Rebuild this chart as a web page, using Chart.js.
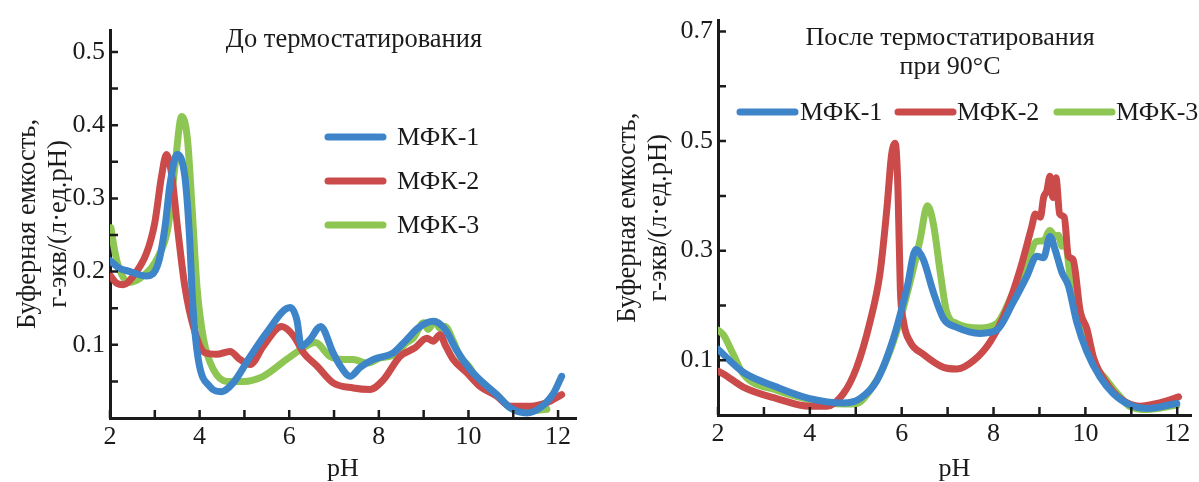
<!DOCTYPE html>
<html>
<head>
<meta charset="utf-8">
<script src="https://cdn.jsdelivr.net/npm/chart.js@4.4.1/dist/chart.umd.min.js"></script>
<style>
  html, body { margin: 0; padding: 0; background: #fff; }
  .wrap { position: absolute; top: 0; height: 482px; }
  #left { left: 0; width: 600px; }
  #right { left: 600px; width: 599px; }
</style>
</head>
<body>
<div class="wrap" id="left"><canvas id="chartBefore"></canvas></div>
<div class="wrap" id="right"><canvas id="chartAfter"></canvas></div>
<script>
// ---- data ----
const seriesNames = ['МФК-1', 'МФК-2', 'МФК-3'];

// before thermostating
const beforePH1 = [2.0, 2.2, 2.45, 2.82, 3.08, 3.23, 3.34, 3.5, 3.67, 3.77, 3.85, 3.97, 4.23, 4.49, 4.75, 5.13, 5.5, 6.02, 6.17, 6.27, 6.46, 6.7, 6.98, 7.13, 7.36, 7.58, 7.88, 8.32, 8.62, 8.88, 9.21, 9.48, 9.73, 10.04, 10.33, 10.63, 10.93, 11.3, 11.6, 11.9, 12.08];
const beforeV1 = [0.215, 0.205, 0.2, 0.194, 0.212, 0.262, 0.32, 0.36, 0.33, 0.253, 0.153, 0.08, 0.043, 0.036, 0.048, 0.084, 0.117, 0.151, 0.134, 0.098, 0.107, 0.125, 0.089, 0.072, 0.057, 0.069, 0.080, 0.089, 0.107, 0.123, 0.132, 0.121, 0.093, 0.066, 0.048, 0.032, 0.014, 0.007, 0.014, 0.034, 0.057];

const beforePH2 = [2.0, 2.15, 2.3, 2.52, 2.82, 3.0, 3.15, 3.26, 3.37, 3.52, 3.67, 3.86, 4.12, 4.38, 4.68, 4.9, 5.13, 5.42, 5.83, 6.1, 6.32, 6.62, 6.98, 7.43, 7.8, 8.1, 8.47, 8.81, 9.07, 9.21, 9.37, 9.48, 9.66, 9.96, 10.26, 10.63, 10.93, 11.38, 11.75, 12.08];
const beforeV2 = [0.195, 0.184, 0.182, 0.194, 0.226, 0.267, 0.33, 0.36, 0.335, 0.253, 0.18, 0.125, 0.089, 0.087, 0.091, 0.08, 0.073, 0.098, 0.125, 0.112, 0.089, 0.071, 0.048, 0.041, 0.039, 0.052, 0.084, 0.096, 0.109, 0.105, 0.114, 0.100, 0.080, 0.062, 0.043, 0.030, 0.016, 0.016, 0.021, 0.032];

const beforePH3 = [2.02, 2.1, 2.19, 2.41, 2.74, 3.08, 3.3, 3.45, 3.6, 3.73, 3.83, 3.94, 4.09, 4.31, 4.61, 4.98, 5.42, 5.94, 6.32, 6.58, 6.91, 7.21, 7.43, 7.73, 8.03, 8.36, 8.62, 8.77, 9.0, 9.1, 9.25, 9.36, 9.48, 9.66, 9.81, 10.0, 10.26, 10.63, 10.93, 11.3, 11.75];
const beforeV3 = [0.26, 0.23, 0.207, 0.185, 0.194, 0.221, 0.262, 0.344, 0.412, 0.38, 0.289, 0.18, 0.107, 0.066, 0.050, 0.050, 0.057, 0.080, 0.096, 0.103, 0.084, 0.080, 0.080, 0.075, 0.082, 0.087, 0.103, 0.109, 0.130, 0.121, 0.132, 0.123, 0.125, 0.105, 0.084, 0.071, 0.048, 0.032, 0.014, 0.009, 0.012];

// after thermostating at 90°C
const afterPH1 = [2.0, 2.55, 3.28, 4.0, 4.73, 5.09, 5.46, 5.82, 6.11, 6.31, 6.47, 6.69, 6.91, 7.2, 7.71, 8.07, 8.43, 8.73, 8.94, 9.09, 9.23, 9.34, 9.49, 9.63, 9.81, 10.03, 10.32, 10.61, 10.98, 11.34, 11.99];
const afterV1 = [0.12, 0.078, 0.051, 0.030, 0.022, 0.030, 0.063, 0.140, 0.23, 0.302, 0.284, 0.224, 0.176, 0.16, 0.149, 0.155, 0.206, 0.254, 0.29, 0.287, 0.326, 0.302, 0.26, 0.236, 0.170, 0.116, 0.069, 0.039, 0.018, 0.012, 0.021];

const afterPH2 = [2.0, 2.12, 2.55, 3.28, 4.0, 4.37, 4.73, 5.02, 5.31, 5.53, 5.68, 5.78, 5.86, 5.92, 5.97, 6.04, 6.18, 6.47, 6.91, 7.2, 7.56, 7.93, 8.29, 8.58, 8.83, 8.91, 9.02, 9.09, 9.16, 9.23, 9.29, 9.36, 9.44, 9.54, 9.63, 9.73, 9.89, 10.03, 10.18, 10.47, 10.76, 11.19, 11.56, 12.03];
const afterV2 = [0.08, 0.075, 0.051, 0.030, 0.016, 0.016, 0.039, 0.087, 0.170, 0.26, 0.379, 0.475, 0.496, 0.409, 0.23, 0.17, 0.134, 0.111, 0.087, 0.084, 0.099, 0.134, 0.194, 0.266, 0.343, 0.367, 0.361, 0.397, 0.409, 0.436, 0.397, 0.433, 0.367, 0.361, 0.29, 0.284, 0.188, 0.158, 0.104, 0.057, 0.030, 0.016, 0.021, 0.033];

const afterPH3 = [2.0, 2.12, 2.33, 2.55, 3.28, 4.0, 4.73, 5.02, 5.31, 5.6, 5.89, 6.18, 6.4, 6.56, 6.69, 6.84, 6.98, 7.2, 7.71, 8.07, 8.43, 8.73, 8.94, 9.09, 9.23, 9.34, 9.41, 9.49, 9.56, 9.67, 9.81, 9.96, 10.1, 10.47, 10.76, 10.98, 11.34, 11.99];
const afterV3 = [0.155, 0.146, 0.111, 0.075, 0.045, 0.028, 0.020, 0.021, 0.045, 0.087, 0.152, 0.242, 0.32, 0.382, 0.349, 0.26, 0.188, 0.167, 0.159, 0.167, 0.224, 0.278, 0.317, 0.318, 0.337, 0.326, 0.328, 0.308, 0.314, 0.254, 0.212, 0.164, 0.111, 0.063, 0.033, 0.015, 0.010, 0.018];

// ticks
const xTicks = [2, 3, 4, 5, 6, 7, 8, 9, 10, 11, 12];
const xTickLabels = ['2', '', '4', '', '6', '', '8', '', '10', '', '12'];
const beforeYTicks = [0.05, 0.1, 0.15, 0.2, 0.25, 0.3, 0.35, 0.4, 0.45, 0.5];
const beforeYLabels = ['', '0.1', '', '0.2', '', '0.3', '', '0.4', '', '0.5'];
const afterYTicks = [0.1, 0.2, 0.3, 0.4, 0.5, 0.6, 0.7];
const afterYLabels = ['0.1', '', '0.3', '', '0.5', '', '0.7'];

const colors = ['#3d84c9', '#cb4a4a', '#8dc653'];
const serif = '"Liberation Serif", "Times New Roman", serif';
const ink = '#1b1b1b';

function toPoints(xs, ys) {
    return xs.map((x, i) => ({ x: x, y: ys[i] }));
}

// small inward tick marks on both axes
const inwardTicks = {
    id: 'inwardTicks',
    afterDraw(chart) {
        const ctx = chart.ctx;
        const area = chart.chartArea;
        const xs = chart.scales.x;
        const ys = chart.scales.y;
        ctx.save();
        ctx.strokeStyle = ink;
        ctx.lineWidth = 2.5;
        ctx.beginPath();
        xs.ticks.forEach(t => {
            const px = xs.getPixelForValue(t.value);
            ctx.moveTo(px, area.bottom);
            ctx.lineTo(px, area.bottom - 8);
        });
        ys.ticks.forEach(t => {
            const py = ys.getPixelForValue(t.value);
            ctx.moveTo(area.left, py);
            ctx.lineTo(area.left + 8, py);
        });
        ctx.stroke();
        ctx.restore();
    }
};

// panel title and legend placed by hand like in the figure
const notes = {
    id: 'notes',
    afterDraw(chart, args, opts) {
        const ctx = chart.ctx;
        ctx.save();
        ctx.fillStyle = ink;
        ctx.textBaseline = 'middle';
        ctx.font = opts.titleSize + 'px ' + serif;
        ctx.textAlign = 'center';
        opts.title.forEach((line, i) => {
            ctx.fillText(line, opts.titleX, opts.titleY + i * opts.titleGap);
        });
        ctx.font = '26px ' + serif;
        ctx.textAlign = 'left';
        chart.data.datasets.forEach((ds, i) => {
            const p = opts.legend[i];
            ctx.strokeStyle = ds.borderColor;
            ctx.lineWidth = 7;
            ctx.lineCap = 'round';
            ctx.beginPath();
            ctx.moveTo(p.x, p.y);
            ctx.lineTo(p.x + p.len, p.y);
            ctx.stroke();
            ctx.fillText(ds.label, p.x + p.len + p.gap, p.y + 1);
        });
        ctx.restore();
    }
};

function makeChart(id, sets, cfg) {
    const ctx = document.getElementById(id).getContext('2d');
    return new Chart(ctx, {
        type: 'line',
        data: {
            datasets: sets.map((s, i) => ({
                label: seriesNames[i],
                data: toPoints(s[0], s[1]),
                borderColor: colors[i],
                borderWidth: 7,
                pointRadius: 0,
                cubicInterpolationMode: 'monotone',
                borderCapStyle: 'round',
                borderJoinStyle: 'round',
                fill: false
            }))
        },
        options: {
            responsive: true,
            maintainAspectRatio: false,
            animation: false,
            layout: { padding: cfg.padding },
            plugins: {
                legend: { display: false },
                title: { display: false },
                tooltip: { enabled: false },
                notes: cfg.notes
            },
            scales: {
                x: {
                    type: 'linear',
                    min: 2,
                    max: cfg.xMax,
                    afterBuildTicks: s => { s.ticks = xTicks.map(v => ({ value: v })); },
                    afterFit: s => { s.height = cfg.xHeight; },
                    ticks: {
                        callback: (v, i) => xTickLabels[i],
                        autoSkip: false,
                        maxRotation: 0,
                        padding: 4,
                        color: ink,
                        font: { family: serif, size: 26 }
                    },
                    grid: { drawOnChartArea: false, drawTicks: false },
                    border: { color: ink, width: 3 },
                    title: {
                        display: true,
                        text: 'pH',
                        color: ink,
                        font: { family: serif, size: 26, lineHeight: 1 },
                        padding: { top: 0, bottom: 0 }
                    }
                },
                y: {
                    min: 0,
                    max: cfg.yMax,
                    afterBuildTicks: s => { s.ticks = cfg.yTicks.map(v => ({ value: v })); },
                    afterFit: s => { s.width = cfg.yWidth; },
                    ticks: {
                        callback: (v, i) => cfg.yLabels[i],
                        autoSkip: false,
                        padding: 5,
                        color: ink,
                        font: { family: serif, size: 26 }
                    },
                    grid: { drawOnChartArea: false, drawTicks: false },
                    border: { color: ink, width: 3 },
                    title: {
                        display: true,
                        text: ['Буферная емкость,', 'г-экв/(л·ед.pH)'],
                        color: ink,
                        font: { family: serif, size: 26.5, lineHeight: 1.15 },
                        padding: { top: 13, bottom: 0 }
                    }
                }
            }
        },
        plugins: [inwardTicks, notes]
    });
}

makeChart('chartBefore',
    [[beforePH1, beforeV1], [beforePH2, beforeV2], [beforePH3, beforeV3]],
    {
        padding: { top: 30, right: 24, left: 0, bottom: 0 },
        xMax: 12.4, yMax: 0.53, xHeight: 64, yWidth: 110,
        yTicks: beforeYTicks, yLabels: beforeYLabels,
        notes: {
            title: ['До термостатирования'], titleX: 354, titleY: 40, titleGap: 0, titleSize: 26.5,
            legend: [
                { x: 328, y: 137, len: 55, gap: 14 },
                { x: 328, y: 181, len: 55, gap: 14 },
                { x: 328, y: 225, len: 55, gap: 14 }
            ]
        }
    });

makeChart('chartAfter',
    [[afterPH1, afterV1], [afterPH2, afterV2], [afterPH3, afterV3]],
    {
        padding: { top: 13, right: 8, left: 0, bottom: 0 },
        xMax: 12.3, yMax: 0.72, xHeight: 67, yWidth: 118,
        yTicks: afterYTicks, yLabels: afterYLabels,
        notes: {
            title: ['После термостатирования', 'при 90°C'], titleX: 350, titleY: 38, titleGap: 29, titleSize: 26,
            legend: [
                { x: 140, y: 112, len: 55, gap: 5 },
                { x: 298, y: 112, len: 55, gap: 4 },
                { x: 457, y: 112, len: 55, gap: 4 }
            ]
        }
    });
</script>
</body>
</html>
